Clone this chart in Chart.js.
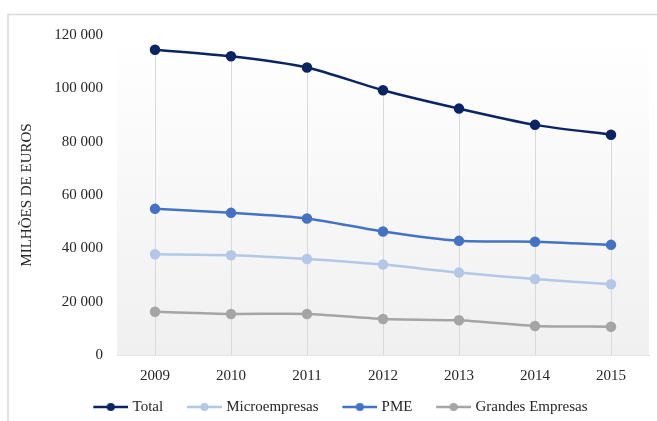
<!DOCTYPE html>
<html>
<head>
<meta charset="utf-8">
<script src="https://cdn.jsdelivr.net/npm/chart.js@4/dist/chart.umd.min.js"></script>
<style>
  html, body { margin: 0; padding: 0; background: #ffffff; }
  #wrap { position: relative; width: 657px; height: 421px; }
</style>
</head>
<body>
<div id="wrap"><canvas id="c" width="657" height="421"></canvas></div>
<script>
const categories = ['2009', '2010', '2011', '2012', '2013', '2014', '2015'];
const totalValues = [114500, 112000, 107800, 99300, 92400, 86300, 82600];
const microValues = [37800, 37400, 36000, 33900, 30900, 28500, 26500];
const pmeValues = [54800, 53300, 51200, 46300, 42800, 42500, 41300];
const grandesValues = [16200, 15400, 15400, 13500, 13000, 10900, 10600];
const seriesNames = ['Total', 'Microempresas', 'PME', 'Grandes Empresas'];
const yTicks = [0, 20000, 40000, 60000, 80000, 100000, 120000];
const yTitle = 'MILHÕES DE EUROS';

const colors = ['#0b2463', '#b4c7e7', '#4472c4', '#a5a5a5'];
const FONT = '"Liberation Serif", "Times New Roman", serif';
const TEXT = '#262626';

function legendImage(color) {
  const cv = document.createElement('canvas');
  cv.width = 56; cv.height = 12;
  const g = cv.getContext('2d');
  const x0 = 21, x1 = 56;
  g.strokeStyle = color; g.lineWidth = 2.5;
  g.beginPath(); g.moveTo(x0, 6); g.lineTo(x1, 6); g.stroke();
  g.fillStyle = color;
  g.beginPath(); g.arc((x0 + x1) / 2, 6, 4, 0, Math.PI * 2); g.fill();
  return cv;
}

const frameAndBg = {
  id: 'frameAndBg',
  beforeDraw(chart) {
    const ctx = chart.ctx;
    const a = chart.chartArea;
    ctx.save();
    ctx.fillStyle = '#ffffff';
    ctx.fillRect(0, 0, chart.width, chart.height);
    ctx.strokeStyle = '#d9d9d9';
    ctx.lineWidth = 1.5;
    ctx.strokeRect(8, 14.5, chart.width + 10, chart.height + 10);
    const grad = ctx.createLinearGradient(0, a.top, 0, a.bottom);
    grad.addColorStop(0, '#ffffff');
    grad.addColorStop(1, '#f0f0f0');
    ctx.fillStyle = grad;
    ctx.fillRect(a.left, a.top, a.right - a.left, a.bottom - a.top);
    ctx.restore();
  }
};

const dropLines = {
  id: 'dropLines',
  beforeDatasetsDraw(chart) {
    const ctx = chart.ctx;
    const xs = chart.scales.x, ys = chart.scales.y;
    ctx.save();
    ctx.strokeStyle = '#d9d9d9';
    ctx.lineWidth = 1;
    categories.forEach((c, i) => {
      let maxV = -Infinity;
      chart.data.datasets.forEach(d => { if (d.data[i] > maxV) maxV = d.data[i]; });
      const x = Math.round(xs.getPixelForValue(i)) + 0.5;
      ctx.beginPath();
      ctx.moveTo(x, ys.getPixelForValue(maxV));
      ctx.lineTo(x, ys.getPixelForValue(0));
      ctx.stroke();
    });
    ctx.restore();
  }
};

const valueSets = [totalValues, microValues, pmeValues, grandesValues];
const datasets = seriesNames.map((name, k) => ({
  label: name,
  data: valueSets[k],
  borderColor: colors[k],
  backgroundColor: colors[k],
  pointBackgroundColor: colors[k],
  pointBorderColor: colors[k],
  borderWidth: 2.5,
  pointRadius: 4,
  pointHoverRadius: 4,
  tension: 0.25,
  fill: false,
  pointStyle: 'circle',
  legendImg: legendImage(colors[k])
}));

new Chart(document.getElementById('c'), {
  type: 'line',
  data: { labels: categories, datasets },
  plugins: [frameAndBg, dropLines],
  options: {
    responsive: false,
    animation: false,
    devicePixelRatio: 1,
    layout: { padding: { left: 14, right: 8, top: 35, bottom: -3.5 } },
    plugins: {
      tooltip: { enabled: false },
      legend: {
        position: 'bottom',
        labels: {
          usePointStyle: true,
          pointStyleWidth: 49.5,
          padding: 6,
          color: TEXT,
          font: { family: FONT, size: 15 },
          generateLabels(chart) {
            return chart.data.datasets.map((d, i) => ({
              text: d.label,
              pointStyle: d.legendImg,
              fillStyle: d.borderColor,
              strokeStyle: d.borderColor,
              lineWidth: 0,
              hidden: false,
              datasetIndex: i,
              fontColor: TEXT
            }));
          }
        }
      }
    },
    scales: {
      x: {
        offset: true,
        grid: { display: false, drawTicks: false },
        border: { display: true, color: '#e3e3e3' },
        ticks: { color: TEXT, font: { family: FONT, size: 15 }, padding: 12 },
        afterFit(s) { s.height = 38.5; }
      },
      y: {
        min: 0,
        max: 120000,
        afterBuildTicks(s) { s.ticks = yTicks.map(v => ({ value: v })); },
        grid: { display: false, drawTicks: false },
        border: { display: false },
        ticks: {
          color: TEXT,
          font: { family: FONT, size: 15 },
          padding: 14,
          callback: v => v === 0 ? '0' : String(v).replace(/\B(?=(\d{3})+(?!\d))/g, ' ')
        },
        title: {
          display: true,
          text: yTitle,
          color: TEXT,
          font: { family: FONT, size: 15 },
          padding: { top: 4, bottom: 4 }
        },
        afterFit(s) { s.width = 103; }
      }
    }
  }
});
</script>
</body>
</html>
